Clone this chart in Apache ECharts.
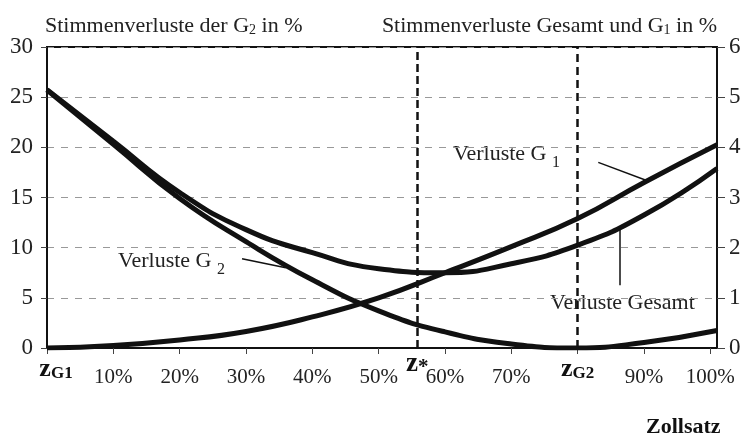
<!DOCTYPE html>
<html>
<head>
<meta charset="utf-8">
<script src="https://cdn.jsdelivr.net/npm/echarts@6/dist/echarts.min.js"></script>
<style>
  html, body { margin: 0; padding: 0; background: #fff; }
  #chart { width: 748px; height: 440px; }
</style>
</head>
<body>
<div id="chart"></div>
<script>
// Zollsatz in %
const zollsatz = [0, 10, 20, 30, 40, 50, 60, 70, 80, 90, 101]
// linke Achse (0-30)
const verlusteG2 = [25.7, 20.3, 14.9, 10.6, 6.8, 3.7, 1.6, 0.4, 0, 0.55, 1.75]
// rechte Achse (0-6)
const verlusteG1 = [0, 0.05, 0.16, 0.33, 0.62, 1.0, 1.5, 2.02, 2.58, 3.3, 4.05]
const verlusteGesamt = [5.15, 4.12, 3.1, 2.36, 1.9, 1.58, 1.5, 1.68, 2.05, 2.65, 3.58]
// besondere Zollsätze
const zStar = 55.8
const zG2 = 80
const zLabels = { 0: 'G1', 80: 'G2' }

const serif = 'Liberation Serif'
const pairs = arr => zollsatz.map((x, i) => [x, arr[i]])

let myChart = echarts.init(document.getElementById('chart'))
let titleRich = {
  a: { fontFamily: serif, fontSize: 22, fontWeight: 'normal', color: '#222', lineHeight: 26, verticalAlign: 'bottom' },
  s: { fontFamily: serif, fontSize: 14, fontWeight: 'normal', color: '#222', lineHeight: 14, verticalAlign: 'bottom' }
}
let noteRich = {
  a: { fontFamily: serif, fontSize: 22, fill: '#222', lineHeight: 26, verticalAlign: 'bottom' },
  s: { fontFamily: serif, fontSize: 16, fill: '#222', lineHeight: 16, verticalAlign: 'bottom', padding: [0, 0, -6, 0] }
}
let option = {
  animation: false,
  textStyle: { fontFamily: serif, color: '#222' },
  title: [
    {
      left: 40, top: 6,
      text: '{a|Stimmenverluste der G}{s|2}{a| in %}',
      textStyle: { fontWeight: 'normal', rich: titleRich }
    },
    {
      right: 26, top: 6,
      text: '{a|Stimmenverluste Gesamt und G}{s|1}{a| in %}',
      textStyle: { fontWeight: 'normal', rich: titleRich }
    }
  ],
  grid: {
    left: 47, right: 31, top: 47, bottom: 92,
    show: true, borderColor: '#111', borderWidth: 2
  },
  xAxis: {
    type: 'value',
    min: 0, max: 101, interval: 10,
    axisLine: { show: true, lineStyle: { color: '#111', width: 2 } },
    axisTick: { show: true, length: 6, lineStyle: { color: '#444', width: 1 } },
    splitLine: { show: false },
    axisLabel: {
      margin: 8,
      showMaxLabel: false,
      formatter: v => {
        if (v === 0) return '{z0|z}{g|' + zLabels[v] + '}'
        if (zLabels[v]) return '{z|z}{g|' + zLabels[v] + '}'
        if (v > 100) return ''
        return '{p|' + v + '%}'
      },
      rich: {
        p: { fontFamily: serif, fontSize: 21, color: '#222', lineHeight: 24, padding: [18, 0, 0, 0] },
        z0: { fontFamily: serif, fontSize: 26, fontWeight: 'bold', color: '#111', lineHeight: 26, padding: [2, 0, 0, 18], verticalAlign: 'bottom' },
        z: { fontFamily: serif, fontSize: 26, fontWeight: 'bold', color: '#111', lineHeight: 26, padding: [2, 0, 0, 0], verticalAlign: 'bottom' },
        g: { fontFamily: serif, fontSize: 17, fontWeight: 'bold', color: '#111', lineHeight: 17, verticalAlign: 'bottom' }
      }
    }
  },
  yAxis: [
    {
      type: 'value', min: 0, max: 30, interval: 5,
      axisLine: { show: true, lineStyle: { color: '#111', width: 2 } },
      axisTick: { show: true, length: 6, lineStyle: { color: '#444' } },
      splitLine: { show: true, lineStyle: { color: '#999', type: [7, 7], width: 1 } },
      axisLabel: { fontFamily: serif, fontSize: 23, color: '#222', margin: 14 }
    },
    {
      type: 'value', min: 0, max: 6, interval: 1, position: 'right',
      axisLine: { show: true, lineStyle: { color: '#111', width: 2 } },
      axisTick: { show: true, length: 8, lineStyle: { color: '#444' } },
      splitLine: { show: false },
      axisLabel: { fontFamily: serif, fontSize: 23, color: '#222', margin: 12 }
    }
  ],
  series: [
    {
      name: 'Verluste G2',
      type: 'line',
      yAxisIndex: 0,
      smooth: true,
      symbol: 'none',
      lineStyle: { color: '#111', width: 5 },
      data: pairs(verlusteG2),
      markLine: {
        silent: true,
        symbol: 'none',
        data: [
          {
            xAxis: zStar,
            lineStyle: { color: '#111', type: [8, 4], width: 2.5 },
            label: {
              show: true, position: 'start', distance: 0,
              formatter: '{z|z}{s|*}',
              rich: {
                z: { fontFamily: serif, fontSize: 27, fontWeight: 'bold', color: '#111', lineHeight: 24, verticalAlign: 'bottom' },
                s: { fontFamily: serif, fontSize: 21, fontWeight: 'bold', color: '#111', lineHeight: 30, verticalAlign: 'bottom' }
              }
            }
          },
          {
            xAxis: zG2,
            lineStyle: { color: '#111', type: [8, 5], width: 2.5 },
            label: { show: false }
          },
          [
            { coord: [29.4, 8.9], lineStyle: { color: '#111', type: 'solid', width: 1.5 }, label: { show: false } },
            { coord: [36, 8.0] }
          ]
        ]
      }
    },
    {
      name: 'Verluste G1',
      type: 'line',
      yAxisIndex: 1,
      smooth: true,
      symbol: 'none',
      lineStyle: { color: '#111', width: 5 },
      data: pairs(verlusteG1),
      markLine: {
        silent: true,
        symbol: 'none',
        data: [
          [
            { coord: [83.1, 3.7], lineStyle: { color: '#111', type: 'solid', width: 1.5 }, label: { show: false } },
            { coord: [90.6, 3.33] }
          ]
        ]
      }
    },
    {
      name: 'Verluste Gesamt',
      type: 'line',
      yAxisIndex: 1,
      smooth: true,
      symbol: 'none',
      lineStyle: { color: '#111', width: 5 },
      data: pairs(verlusteGesamt),
      markLine: {
        silent: true,
        symbol: 'none',
        data: [
          [
            { coord: [86.4, 2.35], lineStyle: { color: '#111', type: 'solid', width: 1.5 }, label: { show: false } },
            { coord: [86.4, 1.25] }
          ]
        ]
      }
    }
  ],
  graphic: [
    {
      type: 'text', left: 118, top: 250,
      style: { text: '{a|Verluste G }{s|2}', rich: noteRich }
    },
    {
      type: 'text', left: 453, top: 143,
      style: { text: '{a|Verluste G }{s|1}', rich: noteRich }
    },
    {
      type: 'text', left: 550, top: 292,
      style: { text: 'Verluste Gesamt', fontFamily: serif, fontSize: 22, fill: '#222' }
    },
    {
      type: 'text', left: 646, top: 416,
      style: { text: 'Zollsatz', fontFamily: serif, fontSize: 22, fontWeight: 'bold', fill: '#111' }
    }
  ]
}
myChart.setOption(option)
window.addEventListener('resize', () => myChart.resize())
</script>
</body>
</html>
